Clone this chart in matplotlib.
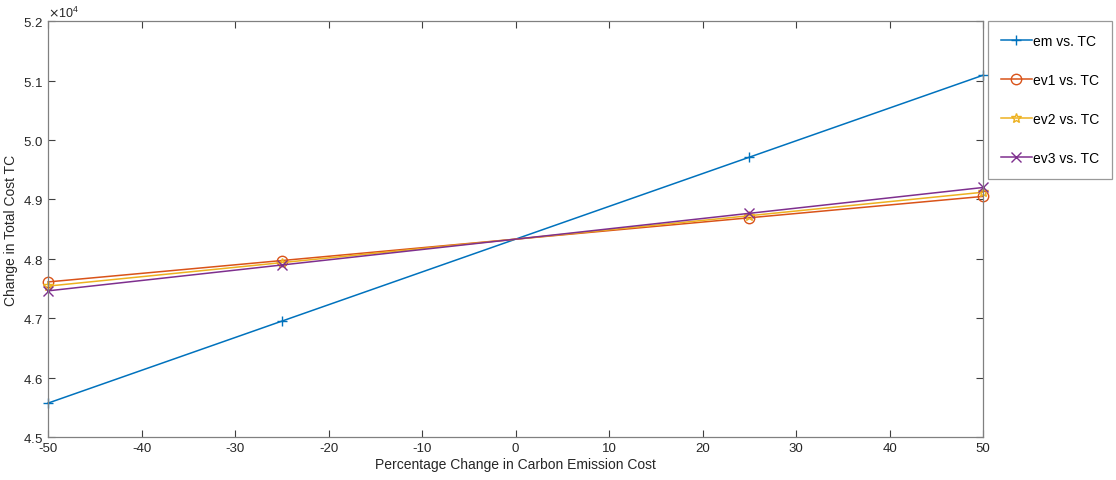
import numpy as np
import matplotlib.pyplot as plt
from matplotlib.ticker import ScalarFormatter

plt.rcParams['font.family'] = ['Liberation Sans', 'DejaVu Sans']
plt.rcParams['axes.unicode_minus'] = False

# percentage change in carbon emission cost
pct = [-50, -25, 0, 25, 50]

# total cost TC for each varied parameter
em = [45570, 46950, 48330, 49710, 51090]
ev1 = [47610, 47970, 48330, 48690, 49050]
ev2 = [47540, 47935, 48330, 48725, 49120]
ev3 = [47460, 47895, 48330, 48765, 49200]

labels = ['em vs. TC', 'ev1 vs. TC', 'ev2 vs. TC', 'ev3 vs. TC']
colors = ['#0072BD', '#D95319', '#EDB120', '#7E2F8E']
markers = ['+', 'o', '*', 'x']

fig = plt.figure(figsize=(11.16, 4.81), dpi=100)
ax = fig.add_axes([0.043, 0.0894, 0.838, 0.8646])

# the base case (0 %) carries no marker
for ys, lab, c, m in zip([em, ev1, ev2, ev3], labels, colors, markers):
    ax.plot(pct, ys, color=c, marker=m, markersize=7.5, markerfacecolor='none',
            markeredgewidth=1.0, linewidth=1.1, label=lab,
            markevery=[0, 1, 3, 4], clip_on=False)

ax.set_xlim(-50, 50)
ax.set_ylim(45000, 52000)
ax.set_xticks(np.arange(-50, 51, 10))
ax.set_yticks(np.arange(45000, 52001, 1000))

fmt = ScalarFormatter(useMathText=True)
fmt.set_powerlimits((0, 0))
ax.yaxis.set_major_formatter(fmt)
ax.yaxis.get_offset_text().set_fontsize(9)
ax.yaxis.get_offset_text().set_color('#404040')

ax.tick_params(direction='in', top=True, right=True, length=5, width=0.8,
               colors='#404040', labelsize=9.5, labelcolor='#262626')
for s in ax.spines.values():
    s.set_color('#808080')
    s.set_linewidth(0.9)

ax.set_xlabel('Percentage Change in Carbon Emission Cost', fontsize=10, color='#262626', labelpad=2)
ax.set_ylabel('Change in Total Cost TC', fontsize=10, color='#262626', labelpad=4)

leg = ax.legend(loc='upper left', bbox_to_anchor=(1.005, 1.0), fontsize=10,
                frameon=True, fancybox=False, handlelength=2.2, labelspacing=1.8,
                borderpad=0.95, handletextpad=0.1, borderaxespad=0)
leg.get_frame().set_edgecolor('#808080')
leg.get_frame().set_linewidth(0.9)

fig.savefig('out.png', dpi=100)
